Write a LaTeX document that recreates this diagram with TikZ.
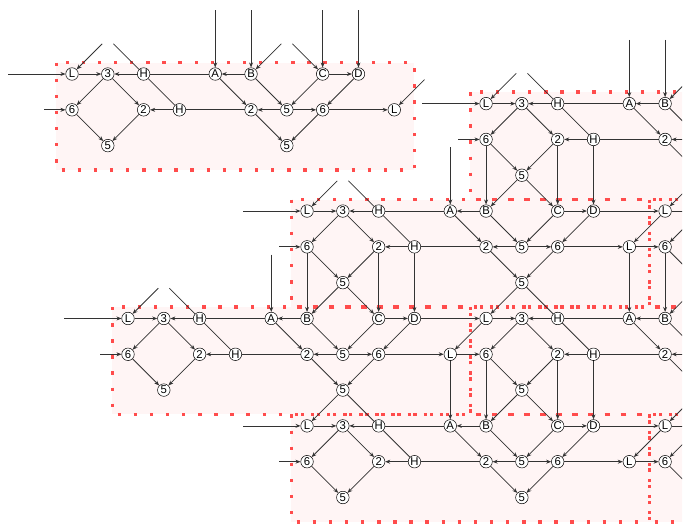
\documentclass[tikz,border=0pt]{standalone}
\usepackage{fontspec}
\setsansfont{Liberation Sans}
\usetikzlibrary{arrows.meta,calc}
\tikzset{
  gate/.style={
    inner sep = 0pt,
    minimum size = 0.35cm,
    shape = circle,
    draw,
    fill = white,
    font = \sffamily\fontsize{9}{9}\selectfont
  },
  wire/.style={
    draw = black!80,
    line width = 0.6pt,
    -{Stealth[length=1.4mm,width=1.1mm]}
  },
  bare/.style={
    draw = black!80,
    line width = 0.6pt
  },
  stub/.style={
    shorten <= 0.22cm
  },
  cellfill/.style={
    fill = red!4
  },
  cellframe/.style={
    draw = red!70,
    line width = 2.7pt,
    dash pattern = on 2.7pt off 10.1pt
  }
}
% one tile: #1 name, (#2,#3) where its first L sits
% (labels past the right edge of the page are left out)
\newcommand{\cell}[3]{%
  \begin{scope}[shift={(#2,#3)}]
    \foreach \nm/\cx/\cy/\tx in {l/0/0/L, th/1/0/3, h/2/0/H, a/4/0/A, b/5/0/B, c/7/0/C, d/8/0/D,
        sx/0/-1/6, tw/2/-1/2, hh/3/-1/H, tv/5/-1/2, fv/6/-1/5, sv/7/-1/6, ll/9/-1/L,
        fa/1/-2/5, fb/6/-2/5}{
      \pgfmathsetmacro\gx{#2+\cx}
      \ifdim\gx pt>19.2pt
        \node[gate] (#1\nm) at (\cx,\cy) {};
      \else
        \node[gate] (#1\nm) at (\cx,\cy) {\tx};
      \fi}
  \end{scope}
  \foreach \src/\dst in {l/th, h/th, th/sx, th/tw, sx/fa, tw/fa, hh/tw, b/a, a/tv, b/fv, c/fv,
      c/d, d/sv, fv/tv, fv/sv, tv/fb, sv/fb, sv/ll}
    \draw[wire] (#1\src) -- (#1\dst);
  \foreach \src/\dst in {h/hh, h/a, hh/tv}
    \draw[bare] (#1\src) -- (#1\dst);
}
% links between neighbouring tiles
\newcommand{\linkright}[2]{%
  \draw[wire] (#1d) -- (#2l);
  \draw[wire] (#1ll) -- (#2sx);
  \draw[wire] (#2l) -- (#1ll);
}
\newcommand{\linkdownleft}[2]{%
  \foreach \src/\dst in {sx/b, fa/b, fa/c, tw/c, hh/d}
    \draw[wire] (#1\src) -- (#2\dst);
}
\newcommand{\linkdownright}[2]{%
  \draw[wire] (#1fb) -- (#2l);
  \draw[bare] (#1fb) -- (#2h);
  \draw[wire] (#1ll) -- (#2a);
}
% loose ends where the neighbour is not drawn
\newcommand{\stubsleft}[1]{%
  \coordinate (#1in1) at ($(#1l)+(-2,0)$);
  \coordinate (#1in2) at ($(#1sx)+(-1,0)$);
  \draw[wire,stub] (#1in1) -- (#1l);
  \draw[wire,stub] (#1in2) -- (#1sx);
}
\newcommand{\stubsupleft}[1]{%
  \coordinate (#1in3) at ($(#1l)+(1,1)$);
  \coordinate (#1in4) at ($(#1a)+(0,2)$);
  \draw[wire,stub] (#1in3) -- (#1l);
  \draw[bare,stub] (#1in3) -- (#1h);
  \draw[wire,stub] (#1in4) -- (#1a);
}
\newcommand{\stubsupright}[1]{%
  \coordinate (#1in5) at ($(#1b)+(0,2)$);
  \coordinate (#1in6) at ($(#1b)+(1,1)$);
  \coordinate (#1in7) at ($(#1c)+(0,2)$);
  \coordinate (#1in8) at ($(#1d)+(0,2)$);
  \draw[wire,stub] (#1in5) -- (#1b);
  \draw[wire,stub] (#1in6) -- (#1b);
  \draw[wire,stub] (#1in6) -- (#1c);
  \draw[wire,stub] (#1in7) -- (#1c);
  \draw[wire,stub] (#1in8) -- (#1d);
}
\newcommand{\stubright}[1]{%
  \coordinate (#1in9) at ($(#1ll)+(1,1)$);
  \draw[wire,stub] (#1in9) -- (#1ll);
}
\begin{document}
\begin{tikzpicture}
\useasboundingbox (0,0) rectangle (19.27,-14.83);
\clip (0,0) rectangle (19.05,-14.83);
\foreach \x/\y in {2.011/-2.067, 8.575/-5.894, 13.575/-2.894, 18.575/-5.894,
    3.575/-8.894, 13.575/-8.894, 8.575/-11.894, 18.575/-11.894}
  \path[cellfill, shift={(\x,\y)}] (-0.44,0.32) rectangle (9.56,-2.68);
\foreach \x/\y in {2.011/-2.067, 8.575/-5.894, 13.575/-2.894, 18.575/-5.894,
    3.575/-8.894, 13.575/-8.894, 8.575/-11.894, 18.575/-11.894}
  \path[cellframe, shift={(\x,\y)}] (-0.44,0.32) rectangle (9.56,-2.68);

\cell{s}{2.011}{-2.067}
\cell{ka}{8.575}{-5.894}
\cell{kb}{13.575}{-2.894}
\cell{kc}{18.575}{-5.894}
\cell{kd}{3.575}{-8.894}
\cell{ke}{13.575}{-8.894}
\cell{kf}{8.575}{-11.894}
\cell{kg}{18.575}{-11.894}

\linkright{ka}{kc}
\linkright{kd}{ke}
\linkright{kf}{kg}
\linkdownleft{kb}{ka}
\linkdownleft{ka}{kd}
\linkdownleft{kc}{ke}
\linkdownleft{ke}{kf}
\linkdownright{kb}{kc}
\linkdownright{ka}{ke}
\linkdownright{kd}{kf}
\linkdownright{ke}{kg}

\stubsleft{s}\stubsupleft{s}\stubsupright{s}\stubright{s}
\stubsleft{ka}\stubsupleft{ka}
\stubsleft{kb}\stubsupleft{kb}\stubsupright{kb}
\stubsleft{kd}\stubsupleft{kd}
\stubsleft{kf}
\end{tikzpicture}
\end{document}
